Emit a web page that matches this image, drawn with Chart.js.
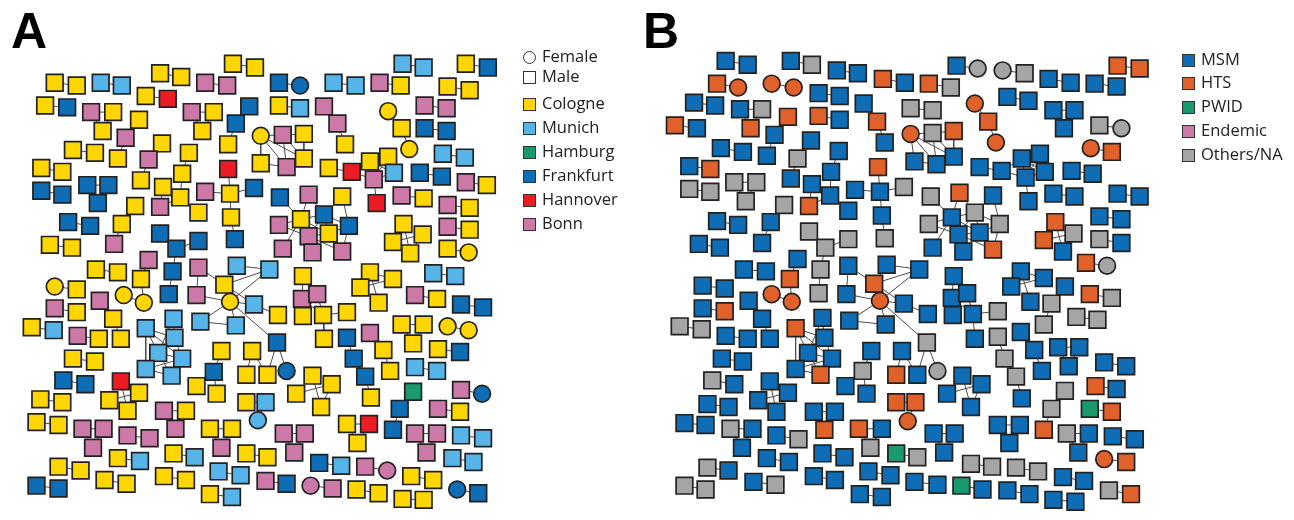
<!DOCTYPE html>
<html>
<head>
<meta charset="utf-8">
<script src="https://cdn.jsdelivr.net/npm/chart.js@4.4.1/dist/chart.umd.min.js"></script>
<style>
  html, body { margin: 0; padding: 0; background: #fff; }
  #wrap { position: relative; width: 1294px; height: 520px; overflow: hidden; background: #fff; }
  .panel { position: absolute; top: 0; width: 647px; height: 520px; }
  .letter { position: absolute; top: 6px; font-family: "Liberation Sans", Arial, sans-serif; font-weight: bold; font-size: 50px; line-height: 1; color: #000; }
  .leg { position: absolute; font-family: "Open Sans", "Noto Sans", sans-serif; font-size: 16.5px; color: #222; line-height: 1; }
  .leg .item { position: absolute; white-space: nowrap; height: 20px; }
  .leg .sym { position: absolute; left: 0; top: 4px; width: 11px; height: 11px; border: 1.4px solid #333; box-sizing: content-box; }
  .leg .txt { position: absolute; left: 19px; top: 1px; }
</style>
</head>
<body>
<div id="wrap">
  <div class="panel" style="left:0"><canvas id="chartA" width="647" height="520"></canvas></div>
  <div class="panel" style="left:647px"><canvas id="chartB" width="647" height="520"></canvas></div>
  <div class="letter" style="left:11px">A</div>
  <div class="letter" style="left:643px">B</div>
  <div class="leg" id="legA" style="left:523px; top:0"></div>
  <div class="leg" id="legB" style="left:1182px; top:0"></div>
</div>
<script>
// ---------- categories ----------
const SEX_LABELS = ['Female', 'Male'];
const CITY_NAMES = ['Cologne', 'Munich', 'Hamburg', 'Frankfurt', 'Hannover', 'Bonn'];
const CITY_CODES = ['C', 'M', 'H', 'F', 'N', 'B'];
const CITY_COLORS = ['#FFD600', '#56B4E9', '#1A9A6C', '#0F6DB5', '#ED1C24', '#CC79A7'];
const ROUTE_NAMES = ['MSM', 'HTS', 'PWID', 'Endemic', 'Others/NA'];
const ROUTE_CODES = ['S', 'T', 'P', 'E', 'O'];
const ROUTE_COLORS = ['#0F6DB5', '#E0622A', '#1A9A6C', '#CC79A7', '#A5A5A5'];

// ---------- link patterns (node indices within a cluster) ----------
const TRI = [[0,1],[0,2],[1,2]];
const STAR = [[0,8],[0,3],[1,3],[1,2],[3,4],[4,5],[4,6],[4,7],[6,7],[8,4],[3,2],[4,2],[5,9],[4,10],[3,5],[11,12],[11,13],[10,13],[10,14]];
const RING6 = [[0,1],[1,2],[2,3],[3,4],[1,4],[0,4],[0,5],[5,4],[0,3],[1,3]];
const SEVEN = [[0,2],[0,3],[0,5],[1,2],[2,3],[2,4],[3,4],[3,5],[3,6],[4,6],[5,6],[0,4],[1,3],[5,4]];
const DENSE12 = [[0,3],[1,3],[1,4],[2,5],[2,4],[3,4],[3,6],[3,7],[3,8],[4,7],[4,8],[4,5],[5,8],[5,11],[7,8],[7,10],[8,11],[9,3],[10,8],[7,11],[6,7]];
const HUB7 = [[0,1],[1,4],[2,4],[3,4],[5,4],[2,3],[4,6],[2,5],[3,5],[1,2]];
const X4 = [[0,3],[2,1],[0,1]];
const HUB6 = [[0,1],[2,1],[1,3],[1,4],[4,5]];
const BRANCH6 = [[0,1],[1,2],[3,4],[4,2],[2,5]];
const BRANCH5 = [[0,1],[1,2],[1,3],[3,4]];
const FORK4 = [[0,1],[1,2],[1,3]];
const WEB7 = [[0,1],[0,2],[1,3],[1,4],[2,3],[2,4],[4,5],[4,6],[1,2]];
const RED4 = [[0,1],[0,3],[2,1],[2,3]];
const CROSS4 = [[0,3],[2,1],[1,3]];
// groups: [nodes [code, x, y] (lowercase code = female), links (default: chain)]

// ---------- Panel A: by city ----------
const groupsA = [
[[['C',43,73],['C',66,76]]],
[[['M',91,73],['M',113,76]]],
[[['C',153,63],['C',175,67]]],
[[['C',229,53],['C',252,57]]],
[[['B',200,73],['B',223,76]]],
[[['C',138,87],['N',161,90]]],
[[['C',33,97],['F',56,99]]],
[[['B',81,104],['C',104,104],['C',93,124]],TRI],
[[['C',131,112],['B',117,131],['C',109,153]]],
[[['B',186,104],['C',209,104],['C',197,124]],TRI],
[[['F',246,98],['F',232,116],['C',224,138]]],
[[['C',62,144],['C',85,147]]],
[[['C',155,137],['B',141,154],['C',133,176]]],
[[['C',183,147],['C',176,169],['C',174,194],['C',156,183],['B',153,204],['C',193,210]],BRANCH6],
[[['C',29,163],['C',51,167]]],
[[['F',29,187],['F',51,191]]],
[[['F',77,181],['F',99,181],['F',88,200]],TRI],
[[['N',224,164],['C',226,190],['B',200,188],['F',251,184],['C',227,215],['F',231,238]],HUB6],
[[['C',127,203],['C',113,222],['B',105,243]]],
[[['F',57,220],['F',80,224]]],
[[['C',38,244],['C',61,247]]],
[[['F',153,232],['F',170,248],['F',193,240],['F',166,272],['F',162,296]],BRANCH5],
[[['B',141,260],['C',133,280],['c',136,305],['c',115,297]]],
[[['C',86,270],['C',109,273]]],
[[['B',193,268],['M',233,266],['M',267,270],['C',220,286],['c',226,304],['M',251,307],['M',195,325],['M',232,329],['B',191,297],['C',276,318],['F',275,347],['C',249,356],['C',243,381],['C',265,381],['f',285,377]],STAR],
[[['c',43,288],['C',66,291]]],
[[['B',43,311],['C',66,315]]],
[[['B',90,303],['C',104,322],['C',112,343]]],
[[['C',19,331],['M',42,334]]],
[[['B',67,340],['C',89,343]]],
[[['M',138,332],['M',167,322],['M',168,342],['M',151,358],['M',176,364],['M',138,375],['M',165,382]],SEVEN],
[[['C',62,364],['C',85,367]]],
[[['C',217,356],['F',209,378],['C',191,393],['C',212,401]],FORK4],
[[['F',52,387],['F',75,391]]],
[[['N',112,388],['C',131,400],['C',100,408],['C',119,419]],RED4],
[[['C',28,407],['C',51,410]]],
[[['C',243,410],['M',263,410],['m',255,429]]],
[[['B',157,419],['C',180,419],['B',169,438]],TRI],
[[['C',24,431],['C',47,434]]],
[[['B',72,438],['B',94,438],['B',83,458]],TRI],
[[['B',119,445],['B',142,448]]],
[[['C',205,438],['C',228,438],['B',217,458]],TRI],
[[['C',47,478],['C',70,482]]],
[[['C',109,469],['M',132,472]]],
[[['C',167,464],['M',189,468]]],
[[['C',243,464],['C',265,468]]],
[[['M',214,483],['M',237,487]]],
[[['F',24,498],['F',47,501]]],
[[['C',95,492],['C',118,496]]],
[[['C',157,488],['C',180,492]]],
[[['C',205,507],['M',228,510]]],
[[['B',263,493],['F',285,496]]],
[[['F',277,73],['f',299,76]]],
[[['M',334,73],['M',357,76]]],
[[['B',382,73],['C',404,76]]],
[[['M',406,53],['M',428,57]]],
[[['C',472,53],['F',495,57]]],
[[['C',453,77],['C',476,81]]],
[[['C',277,97],['M',299,100]]],
[[['B',324,98],['B',338,116],['C',346,138]]],
[[['c',391,103],['C',405,121],['c',413,143]]],
[[['B',429,97],['B',452,100]]],
[[['F',429,121],['F',452,124]]],
[[['c',258,129],['B',281,128],['C',303,127],['C',303,153],['B',285,162],['C',258,158]],RING6],
[[['M',448,148],['M',471,152]]],
[[['C',329,163],['N',353,167],['C',372,156],['C',391,151],['B',376,175],['M',397,168],['N',379,200]],HUB7],
[[['F',424,168],['F',447,172]]],
[[['B',472,178],['C',494,181]]],
[[['B',405,192],['C',428,195]]],
[[['B',453,202],['C',476,205]]],
[[['B',453,225],['C',476,228]]],
[[['C',453,248],['c',475,252]]],
[[['F',278,194],['B',308,191],['C',343,193],['C',300,217],['F',324,212],['F',350,224],['B',277,223],['B',308,235],['C',329,232],['B',281,248],['B',312,252],['B',343,251]],DENSE12],
[[['C',407,222],['C',427,233],['C',396,241],['C',414,253]],CROSS4],
[[['C',372,273],['C',396,280],['C',362,289],['C',381,305]],X4],
[[['M',438,274],['M',461,277]]],
[[['C',302,277],['B',301,301],['B',317,296],['C',302,319],['C',323,318],['C',348,315],['C',324,343]],WEB7],
[[['B',419,297],['C',442,301]]],
[[['F',467,307],['F',490,310]]],
[[['F',348,342],['F',355,364],['F',367,383],['C',373,405]]],
[[['B',372,337],['C',386,355],['C',393,377]]],
[[['C',405,328],['C',428,328],['C',417,348]],TRI],
[[['c',453,330],['c',475,334]]],
[[['C',443,354],['F',466,357]]],
[[['M',419,373],['M',442,377]]],
[[['C',312,382],['C',332,391],['C',295,401],['C',321,415]],CROSS4],
[[['H',417,399],['F',403,417],['F',396,439]]],
[[['B',467,397],['f',489,401]]],
[[['B',443,417],['C',466,420]]],
[[['C',348,433],['N',371,433],['C',359,453]],TRI],
[[['B',282,443],['B',304,443],['B',293,463]],TRI],
[[['B',419,443],['B',442,443],['B',431,463]],TRI],
[[['M',467,445],['M',490,448]]],
[[['F',319,474],['M',342,477]]],
[[['B',367,478],['b',390,482]]],
[[['M',458,469],['M',480,473]]],
[[['C',415,488],['C',438,492]]],
[[['b',310,498],['B',333,501]]],
[[['C',358,502],['C',381,506]]],
[[['f',463,502],['F',485,506]]],
[[['C',406,512],['C',428,513]]]
];

// ---------- Panel B: by transmission route ----------
const groupsB = [
[[['S',715,50],['S',738,54]]],
[[['S',783,50],['O',805,54]]],
[[['S',831,60],['S',853,63]]],
[[['T',879,69],['S',902,73]]],
[[['T',706,74],['t',728,78]]],
[[['t',763,74],['t',786,78]]],
[[['S',682,94],['S',704,97]]],
[[['S',812,84],['S',834,87]]],
[[['S',730,101],['O',753,101],['T',741,121]],TRI],
[[['T',780,109],['S',766,128],['S',758,150]]],
[[['T',812,108],['S',834,112]]],
[[['S',859,95],['T',873,114],['S',881,136]]],
[[['O',908,100],['O',931,102]]],
[[['T',662,118],['S',685,121]]],
[[['S',710,142],['S',733,146]]],
[[['t',908,127],['O',931,126],['T',953,124],['S',953,151],['S',935,159],['S',912,156]],RING6],
[[['S',804,134],['O',790,153],['S',783,174]]],
[[['S',833,145],['S',825,167],['S',824,192],['S',805,180],['T',802,203],['S',843,208]],BRANCH6],
[[['S',677,161],['T',699,164]]],
[[['O',677,185],['O',699,188]]],
[[['O',724,178],['O',747,178],['O',736,198]],TRI],
[[['T',874,162],['S',876,188],['S',850,186],['O',901,183],['S',878,213],['O',881,237]],HUB6],
[[['O',776,202],['S',762,220],['S',753,242]]],
[[['S',706,219],['S',728,223]]],
[[['S',687,243],['S',709,247]]],
[[['O',802,230],['O',819,247],['O',843,238],['O',814,270],['O',812,295]],BRANCH5],
[[['S',790,259],['T',782,280],['t',784,304],['t',763,296]]],
[[['S',734,270],['S',757,272]]],
[[['S',843,266],['S',883,265],['S',917,270],['T',870,285],['t',876,303],['S',901,306],['S',844,324],['S',882,328],['S',841,296],['S',926,317],['O',925,347],['S',899,356],['T',893,381],['S',915,381],['o',936,377]],STAR],
[[['S',691,287],['S',714,290]]],
[[['S',691,311],['T',714,314]]],
[[['S',739,303],['S',753,322],['S',761,343]]],
[[['O',667,330],['O',690,333]]],
[[['S',715,340],['S',738,343]]],
[[['T',788,332],['S',816,321],['S',818,342],['S',801,358],['S',826,364],['S',788,375],['T',814,381]],SEVEN],
[[['S',711,364],['S',733,367]]],
[[['S',867,356],['O',858,377],['S',840,393],['S',862,401]],FORK4],
[[['O',701,387],['S',724,391]]],
[[['S',761,388],['S',780,400],['S',749,408],['S',768,420]],RED4],
[[['S',696,412],['S',718,415]]],
[[['T',893,410],['T',913,410],['t',905,430]]],
[[['S',807,420],['S',829,420],['T',818,439]],TRI],
[[['S',672,432],['S',694,434]]],
[[['O',720,438],['S',743,438],['S',732,458]],TRI],
[[['S',768,445],['O',791,449]]],
[[['T',854,438],['S',878,438],['O',866,458]],TRI],
[[['P',893,464],['O',915,468]]],
[[['O',696,479],['S',718,482]]],
[[['S',758,469],['S',781,473]]],
[[['S',816,464],['S',839,468]]],
[[['S',864,483],['S',887,487]]],
[[['O',672,498],['O',694,502]]],
[[['S',744,494],['O',767,497]]],
[[['S',807,488],['S',829,492]]],
[[['S',855,507],['S',878,510]]],
[[['S',912,494],['S',936,497]]],
[[['S',956,55],['o',978,58]]],
[[['o',1004,60],['O',1027,63]]],
[[['T',1124,55],['T',1147,58]]],
[[['S',1052,69],['S',1075,73]]],
[[['S',1100,74],['S',1123,77]]],
[[['T',927,74],['O',950,78]]],
[[['t',975,95],['T',989,114],['t',997,136]]],
[[['S',1009,88],['S',1031,92]]],
[[['S',1057,102],['S',1079,102],['S',1068,121]],TRI],
[[['O',1105,118],['o',1128,121]]],
[[['t',1096,142],['T',1118,146]]],
[[['S',980,162],['S',1003,166],['S',1024,153],['S',1043,148],['S',1028,173],['S',1048,167],['S',1031,198]],HUB7],
[[['S',1076,166],['S',1098,169]]],
[[['S',1057,190],['S',1079,193]]],
[[['S',1124,190],['S',1147,193]]],
[[['S',1105,214],['S',1128,217]]],
[[['O',1105,238],['S',1128,242]]],
[[['T',1091,263],['o',1113,266]]],
[[['O',929,193],['T',959,189],['S',994,192],['S',951,215],['O',975,210],['O',1001,222],['O',927,222],['S',958,233],['S',980,231],['S',931,247],['S',963,251],['T',994,249]],DENSE12],
[[['T',1059,220],['O',1078,232],['T',1047,239],['S',1067,251]],CROSS4],
[[['S',1023,272],['S',1047,279],['S',1013,288],['S',1033,304]],X4],
[[['S',953,277],['S',951,300],['S',967,295],['S',952,318],['S',973,317],['O',999,314],['S',975,343]],WEB7],
[[['S',1069,288],['O',1055,306],['O',1047,328]]],
[[['T',1095,296],['O',1118,300]]],
[[['O',1081,320],['O',1103,323]]],
[[['O',999,341],['O',1006,364],['O',1018,383],['S',1024,406]]],
[[['S',1023,336],['S',1037,355],['S',1045,377]]],
[[['S',1062,352],['S',1084,352],['S',1073,372]],TRI],
[[['S',1110,368],['S',1133,372]]],
[[['T',1101,393],['S',1123,396]]],
[[['S',962,382],['S',982,391],['S',946,401],['S',971,415]],CROSS4],
[[['O',1069,398],['O',1055,417],['T',1047,439]]],
[[['P',1095,417],['T',1118,420]]],
[[['S',999,434],['S',1022,434],['S',1011,453]],TRI],
[[['S',932,443],['S',954,443],['S',943,463]],TRI],
[[['O',1071,443],['S',1094,443],['S',1083,463]],TRI],
[[['S',1119,446],['S',1142,449]]],
[[['t',1110,470],['T',1133,473]]],
[[['O',971,475],['O',993,478]]],
[[['O',1018,479],['O',1041,483]]],
[[['S',1067,489],['S',1089,493]]],
[[['P',961,498],['S',983,502]]],
[[['S',1009,503],['S',1032,507]]],
[[['O',1115,503],['T',1138,507]]],
[[['S',1057,513],['S',1080,515]]]
];

// ---------- build ----------
function buildPanel(groups, codes, colors) {
  const pts = [], bg = [], styles = [], radii = [], edges = [];
  groups.forEach(g => {
    const nodes = g[0];
    let links = g[1];
    if (!links) { links = []; for (let i = 0; i < nodes.length - 1; i++) links.push([i, i + 1]); }
    links.forEach(([a, b]) => {
      edges.push({x: nodes[a][1], y: nodes[a][2]});
      edges.push({x: nodes[b][1], y: nodes[b][2]});
      edges.push({x: NaN, y: NaN});
    });
    nodes.forEach(n => {
      const female = n[0] !== n[0].toUpperCase();
      const ci = codes.indexOf(n[0].toUpperCase());
      pts.push({x: n[1], y: n[2]});
      bg.push(colors[ci]);
      styles.push(female ? 'circle' : 'rect');
      radii.push(female ? 8.4 : 11.8);
    });
  });
  return {pts, bg, styles, radii, edges};
}

function makeChart(id, groups, codes, colors, xmin, xmax) {
  const d = buildPanel(groups, codes, colors);
  return new Chart(document.getElementById(id), {
    type: 'scatter',
    data: {
      datasets: [
        { type: 'scatter', label: 'nodes', data: d.pts, order: 0,
          backgroundColor: d.bg, borderColor: '#222222', borderWidth: 1.7,
          pointStyle: d.styles, pointRadius: d.radii, pointHoverRadius: d.radii, clip: false },
        { type: 'line', label: 'links', data: d.edges, order: 1,
          borderColor: '#4d4d4d', borderWidth: 1, pointRadius: 0, spanGaps: false,
          fill: false, tension: 0, clip: false }
      ]
    },
    options: {
      responsive: false, animation: false, events: [],
      layout: { padding: 0 },
      plugins: { legend: { display: false }, tooltip: { enabled: false } },
      scales: {
        x: { type: 'linear', min: xmin, max: xmax, display: false },
        y: { type: 'linear', min: 0, max: 520, reverse: true, display: false }
      }
    }
  });
}

makeChart('chartA', groupsA, CITY_CODES, CITY_COLORS, 0, 647);
makeChart('chartB', groupsB, ROUTE_CODES, ROUTE_COLORS, 647, 1294);

// ---------- legends ----------
function addItem(el, top, label, color, round) {
  const it = document.createElement('div');
  it.className = 'item';
  it.style.top = top + 'px';
  const s = document.createElement('div');
  s.className = 'sym';
  s.style.background = color || 'transparent';
  if (round) s.style.borderRadius = '50%';
  const t = document.createElement('div');
  t.className = 'txt';
  t.textContent = label;
  it.appendChild(s); it.appendChild(t);
  el.appendChild(it);
}
const legA = document.getElementById('legA');
addItem(legA, 47, SEX_LABELS[0], null, true);
addItem(legA, 67, SEX_LABELS[1], null, false);
const cityTops = [94, 118, 142, 166, 190, 214];
CITY_NAMES.forEach((n, i) => addItem(legA, cityTops[i], n, CITY_COLORS[i], false));
const legB = document.getElementById('legB');
const routeTops = [50, 73, 97, 121, 145];
ROUTE_NAMES.forEach((n, i) => addItem(legB, routeTops[i], n, ROUTE_COLORS[i], false));
</script>
</body>
</html>
